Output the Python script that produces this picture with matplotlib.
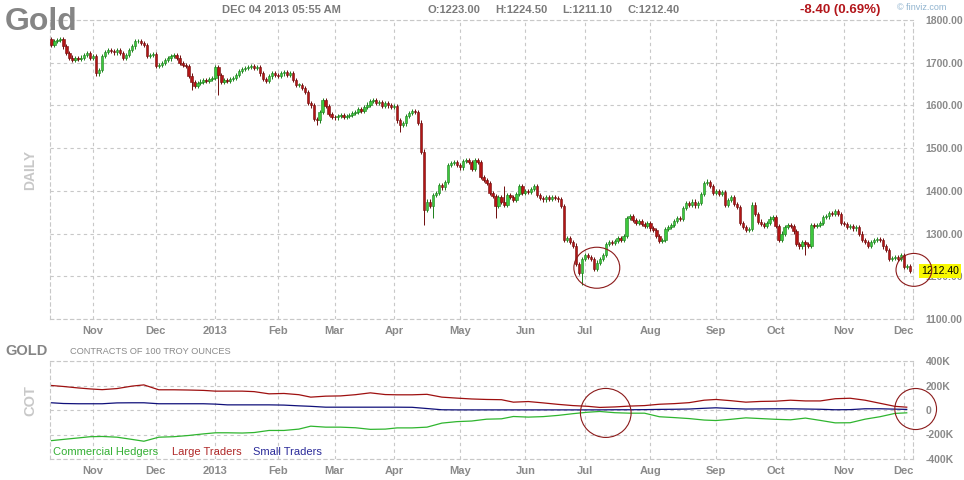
import numpy as np
import pandas as pd
import matplotlib
matplotlib.use("Agg")
import matplotlib.pyplot as plt
from matplotlib.patches import Ellipse

plt.rcParams["font.family"] = ["Liberation Sans", "DejaVu Sans"]

# daily closes, one list per month (first bar 2012-10-10)
close_oct12 = [1742, 1750, 1753, 1755, 1738, 1722, 1712, 1706, 1710, 1708, 1712, 1718, 1722, 1712]
close_nov12 = [1716, 1675, 1683, 1715, 1725, 1730, 1728, 1724, 1730, 1722, 1711, 1718, 1730, 1738,
               1750, 1750, 1746, 1742, 1716, 1718, 1720]
close_dec12 = [1692, 1695, 1700, 1706, 1710, 1715, 1718, 1712, 1700, 1695, 1692, 1670, 1655, 1645,
               1652, 1656, 1660, 1658, 1662, 1665]
close_jan13 = [1690, 1672, 1655, 1660, 1658, 1662, 1665, 1672, 1680, 1685, 1688, 1690, 1692, 1688,
               1690, 1675, 1662, 1658, 1668, 1675, 1672]
close_feb13 = [1670, 1675, 1678, 1672, 1676, 1660, 1648, 1648, 1640, 1632, 1606, 1600, 1568, 1565,
               1584, 1612, 1598, 1580, 1573]
close_mar13 = [1572, 1575, 1578, 1574, 1576, 1578, 1582, 1585, 1592, 1588, 1596, 1602, 1610, 1612,
               1606, 1608, 1598, 1605, 1600, 1596]
close_apr13 = [1598, 1565, 1555, 1558, 1575, 1582, 1586, 1585, 1560, 1492, 1355, 1375, 1365, 1390,
               1395, 1414, 1408, 1420, 1460, 1465, 1468, 1460]
close_may13 = [1455, 1470, 1472, 1468, 1452, 1472, 1468, 1432, 1425, 1418, 1395, 1388, 1365, 1385,
               1375, 1368, 1390, 1385, 1378, 1392, 1411, 1395]
close_jun13 = [1400, 1398, 1405, 1412, 1390, 1383, 1380, 1385, 1382, 1386, 1384, 1380, 1365, 1285,
               1290, 1280, 1272, 1228, 1208, 1240]
close_jul13 = [1250, 1245, 1240, 1218, 1232, 1240, 1250, 1275, 1280, 1278, 1283, 1290, 1285, 1295,
               1336, 1340, 1332, 1325, 1330, 1322, 1318, 1325]
close_aug13 = [1312, 1308, 1295, 1282, 1285, 1310, 1315, 1320, 1330, 1336, 1335, 1360, 1372, 1368,
               1375, 1366, 1372, 1392, 1418, 1420, 1412, 1396]
close_sep13 = [1400, 1392, 1398, 1368, 1378, 1385, 1370, 1362, 1325, 1315, 1308, 1310, 1368, 1345,
               1328, 1322, 1318, 1325, 1335, 1338]
close_oct13 = [1318, 1285, 1300, 1315, 1320, 1318, 1305, 1275, 1270, 1280, 1275, 1272, 1320, 1318,
               1320, 1325, 1338, 1340, 1348, 1345, 1352, 1345, 1325]
close_nov13 = [1322, 1315, 1318, 1312, 1316, 1300, 1285, 1280, 1272, 1280, 1285, 1288, 1285, 1270,
               1262, 1240, 1243, 1245, 1240, 1250]
close_dec13 = [1222, 1223, 1212.4]

closes = (close_oct12 + close_nov12 + close_dec12 + close_jan13 + close_feb13 + close_mar13
          + close_apr13 + close_may13 + close_jun13 + close_jul13 + close_aug13 + close_sep13
          + close_oct13 + close_nov13 + close_dec13)
first_open = 1755.0

# long wicks that stand out (bar index: price)
wick_lows = {47: 1636, 56: 1624, 89: 1554, 117: 1538, 125: 1320, 128: 1336, 149: 1336,
             178: 1180, 253: 1250}
wick_highs = {152: 1412, 220: 1428}

no_trading = ["2012-10-29", "2012-10-30", "2012-11-22", "2012-12-25", "2013-01-01",
              "2013-01-21", "2013-02-18", "2013-03-29", "2013-05-27", "2013-07-04",
              "2013-09-02", "2013-11-28"]

# weekly COT net positions, thousands of contracts
cot_dates = pd.date_range("2012-10-09", "2013-12-03", freq="W-TUE")
large_traders = [200, 192, 180, 172, 166, 175, 195, 205, 165, 165, 163, 160,
                 154, 154, 154, 150, 132, 135, 125, 105, 113, 115, 125, 140, 126,
                 124, 124, 128, 105, 97, 90, 86, 84, 64, 69, 58, 46, 36,
                 30, 21, 25, 32, 36, 47, 52, 60, 80, 86, 76, 64, 70,
                 72, 80, 74, 74, 92, 96, 80, 55, 30, 23]
small_traders = [59, 53, 51, 51, 51, 58, 59, 59, 51, 51, 51, 51,
                 48, 42, 42, 42, 42, 40, 34, 30, 23, 23, 23, 23, 23,
                 23, 22, 12, 2, 1, 1, 1, 1, 1, 1, 1, 1, 1,
                 1, 1, 2, 2, 3, 5, 6, 8, 14, 18, 12, 8, 9,
                 10, 10, 8, 6, 2, 3, 10, 10, 7, 5]
commercial = [-250, -240, -228, -218, -216, -222, -240, -255, -222, -218, -208, -195,
              -186, -186, -188, -184, -167, -167, -156, -132, -140, -140, -145, -158, -156,
              -146, -146, -140, -107, -95, -90, -75, -72, -53, -58, -54, -44, -30,
              -18, -12, -22, -26, -26, -55, -62, -70, -82, -86, -76, -64, -70,
              -76, -80, -66, -85, -105, -104, -75, -55, -28, -23]

dates = pd.bdate_range("2012-10-10", "2013-12-04", freq="C", holidays=no_trading)
n = len(closes)
dates = dates[:n]
x = np.arange(n)
c = np.array(closes, dtype=float)
o = np.concatenate([[first_open], c[:-1]])
up = c >= o

month_idx = [i for i in range(1, n) if dates[i].month != dates[i - 1].month]
month_lbl = ["2013" if dates[i].month == 1 else dates[i].strftime("%b") for i in month_idx]

W, H = 964, 480
fig = plt.figure(figsize=(W / 100, H / 100), dpi=100)
GRID = "#c8c8c8"
DASH = (0, (3, 3))
LBL = "#8a8a8a"


def fx(px):
    return px / W


def fy(py):
    return 1 - py / H


def style_axes(ax):
    for s in ax.spines.values():
        s.set_color(GRID)
        s.set_linestyle(DASH)
        s.set_linewidth(0.8)
    ax.grid(True, color=GRID, linestyle=DASH, linewidth=0.8)
    ax.set_axisbelow(True)
    ax.yaxis.tick_right()
    ax.tick_params(length=0, labelsize=7.5, labelcolor=LBL)
    ax.tick_params(axis="y", pad=9)
    ax.tick_params(axis="x", pad=5)
    ax.set_xticks(month_idx)
    ax.set_xticklabels(month_lbl, fontweight="bold", fontsize=8)
    ax.set_xlim(-0.5, 289.1)


# --- price panel
ax1 = fig.add_axes([fx(50), fy(319), fx(863), 299 / H])
style_axes(ax1)
ax1.set_ylim(1100, 1800)
ax1.set_yticks(np.arange(1100, 1801, 100))
ax1.set_yticklabels([f"{v:.2f}" for v in range(1100, 1801, 100)], fontweight="bold")

wick_pad = 5
lo = np.minimum(o, c) - wick_pad
hi = np.maximum(o, c) + wick_pad
for i, v in wick_lows.items():
    lo[i] = v
for i, v in wick_highs.items():
    hi[i] = v
body_lo = np.minimum(o, c)
body_h = np.maximum(np.abs(c - o), 1.5)
ax1.vlines(x, lo, hi, colors=np.where(up, "#1b7f1b", "#6e0c0c"), linewidth=0.7, zorder=2)
ax1.bar(x, body_h, bottom=body_lo, width=0.8,
        color=np.where(up, "#3cc83c", "#b31515"),
        edgecolor=np.where(up, "#1d7d1d", "#6e0c0c"), linewidth=0.4, zorder=3)

ax1.text(1.0095, closes[-1], f"{closes[-1]:.2f}", transform=ax1.get_yaxis_transform(),
         va="center", ha="left", fontsize=7.5, color="black", zorder=10, clip_on=False,
         bbox=dict(boxstyle="square,pad=0.2", facecolor="#f8f800", edgecolor="none"))

for ctr, w, h in [((183, 1220), 15.4, 96), ((289.4, 1215), 12, 77)]:
    ax1.add_patch(Ellipse(ctr, w, h, fill=False, edgecolor="#8b1a1a", linewidth=0.8,
                          clip_on=False, zorder=11))

# --- COT panel
ax2 = fig.add_axes([fx(50), fy(459), fx(863), 98 / H])
style_axes(ax2)
ax2.set_ylim(-400, 400)
ax2.set_yticks([-400, -200, 0, 200, 400])
ax2.set_yticklabels(["-400K", "-200K", "0", "200K", "400K"], fontweight="bold")
cot_x = np.searchsorted(dates.values, cot_dates.values)
ax2.plot(cot_x, commercial, color="#2fb52f", linewidth=0.9)
ax2.plot(cot_x, large_traders, color="#9e1010", linewidth=0.9)
ax2.plot(cot_x, small_traders, color="#10107a", linewidth=0.9)

for ctr, w, h in [((186, -24), 17, 400), ((290, 8), 14, 335)]:
    ax2.add_patch(Ellipse(ctr, w, h, fill=False, edgecolor="#8b1a1a", linewidth=0.8,
                          clip_on=False, zorder=11))

# --- texts
fig.text(fx(5), fy(30), "Gold", fontsize=23, fontweight="bold", color="#858585", va="baseline")
head = [(222, "DEC 04 2013 05:55 AM"), (428, "O:1223.00"), (495, "H:1224.50"),
        (562, "L:1211.10"), (627, "C:1212.40")]
for px, s in head:
    fig.text(fx(px), fy(10), s, fontsize=8, fontweight="bold", color="#7a7a7a", va="center")
fig.text(fx(800), fy(10), "-8.40 (0.69%)", fontsize=9.5, fontweight="bold", color="#b3161b",
         va="center")
fig.text(fx(897), fy(8), "\u00a9 finviz.com", fontsize=6.5, color="#8fb3cf", va="center")
fig.text(fx(30), fy(170), "DAILY", rotation=90, fontsize=10, fontweight="bold",
         color="#c8c8c8", ha="center", va="center")

fig.text(fx(5), fy(351), "GOLD", fontsize=10.5, fontweight="bold", color="#858585", va="center")
fig.text(fx(70), fy(352), "CONTRACTS OF 100 TROY OUNCES", fontsize=6.7, color="#8a8a8a",
         va="center")
fig.text(fx(30), fy(401), "COT", rotation=90, fontsize=10.5, fontweight="bold",
         color="#c8c8c8", ha="center", va="center")
legend = [(53, "Commercial Hedgers", "#34b034"), (172, "Large Traders", "#b02828"),
          (253, "Small Traders", "#2b2b9a")]
for px, s, col in legend:
    fig.text(fx(px), fy(452), s, fontsize=8, color=col, va="center")

fig.savefig("out.png", dpi=100)
